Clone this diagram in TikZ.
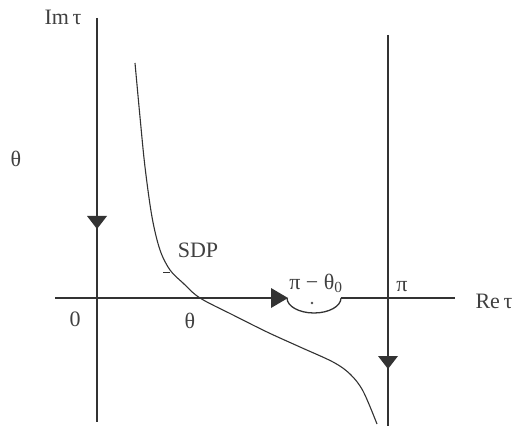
\documentclass[tikz,border=0pt]{standalone}
\usepackage{fontspec}
\setmainfont{Liberation Serif}
\begin{document}
\begin{tikzpicture}[x=1pt,y=-1pt,
  thinline/.style={draw=black!80,line width=1.3pt},
  thickline/.style={draw=black!80,line width=2.4pt},
  tip/.style={fill=black!80,draw=none},
  lbl/.style={inner sep=0pt,text=black!75,font=\fontsize{22}{26}\selectfont}]
\useasboundingbox (0,0) rectangle (516,430);
% coordinates
\coordinate (Ltop) at (97,18);
\coordinate (Lbot) at (97,422);
\coordinate (Rtop) at (388,35);
\coordinate (Rbot) at (388,426);
\coordinate (Aleft) at (55,298);
\coordinate (O) at (97,298);
\coordinate (Atip) at (287,298);
\coordinate (Sright) at (341,298);
\coordinate (Aright) at (455,298);
% axes
\draw[thinline] (Ltop) -- (Lbot);
\draw[thinline] (Rtop) -- (Rbot);
\draw[thinline] (Aleft) -- (O);
\draw[thickline] (O) -- (272,298);
\draw[thinline] (Atip) arc[start angle=180,end angle=360,x radius=27,y radius=-15];
\draw[thinline] (Sright) -- (Aright);
% arrowheads
\fill[tip] (87,216) -- (107,216) -- (97,229) -- cycle;
\fill[tip] (378,356) -- (398,356) -- (388,369) -- cycle;
\fill[tip] (271,288) -- (271,308) -- (288,298) -- cycle;
% dot
\fill[black!70] (312,303) circle (1.3);
% SDP curve
\draw[thinline,line width=1.1pt] plot[smooth,tension=0.55] coordinates{(135,63) (140,117) (145,167) (152,217) (160,250) (170,270) (183,283) (200,298) (233,315) (267,332) (300,347) (333,362) (350,374) (363,391) (377,424)};
\draw[thinline,line width=0.8pt] (163,272) -- (170,272);
% labels
\node[lbl] (im) at (63,17) {Im\,τ};
\node[lbl] (thl) at (16,159) {θ};
\node[lbl] (sdp) at (198,250) {SDP};
\node[lbl] (pt0) at (316,283) {π − θ\textsubscript{0}};
\node[lbl] (pi) at (402,287) {π};
\node[lbl] (re) at (494,301) {Re\,τ};
\node[lbl] (zero) at (75,319) {0};
\node[lbl] (thb) at (190,321) {θ};
\end{tikzpicture}
\end{document}
